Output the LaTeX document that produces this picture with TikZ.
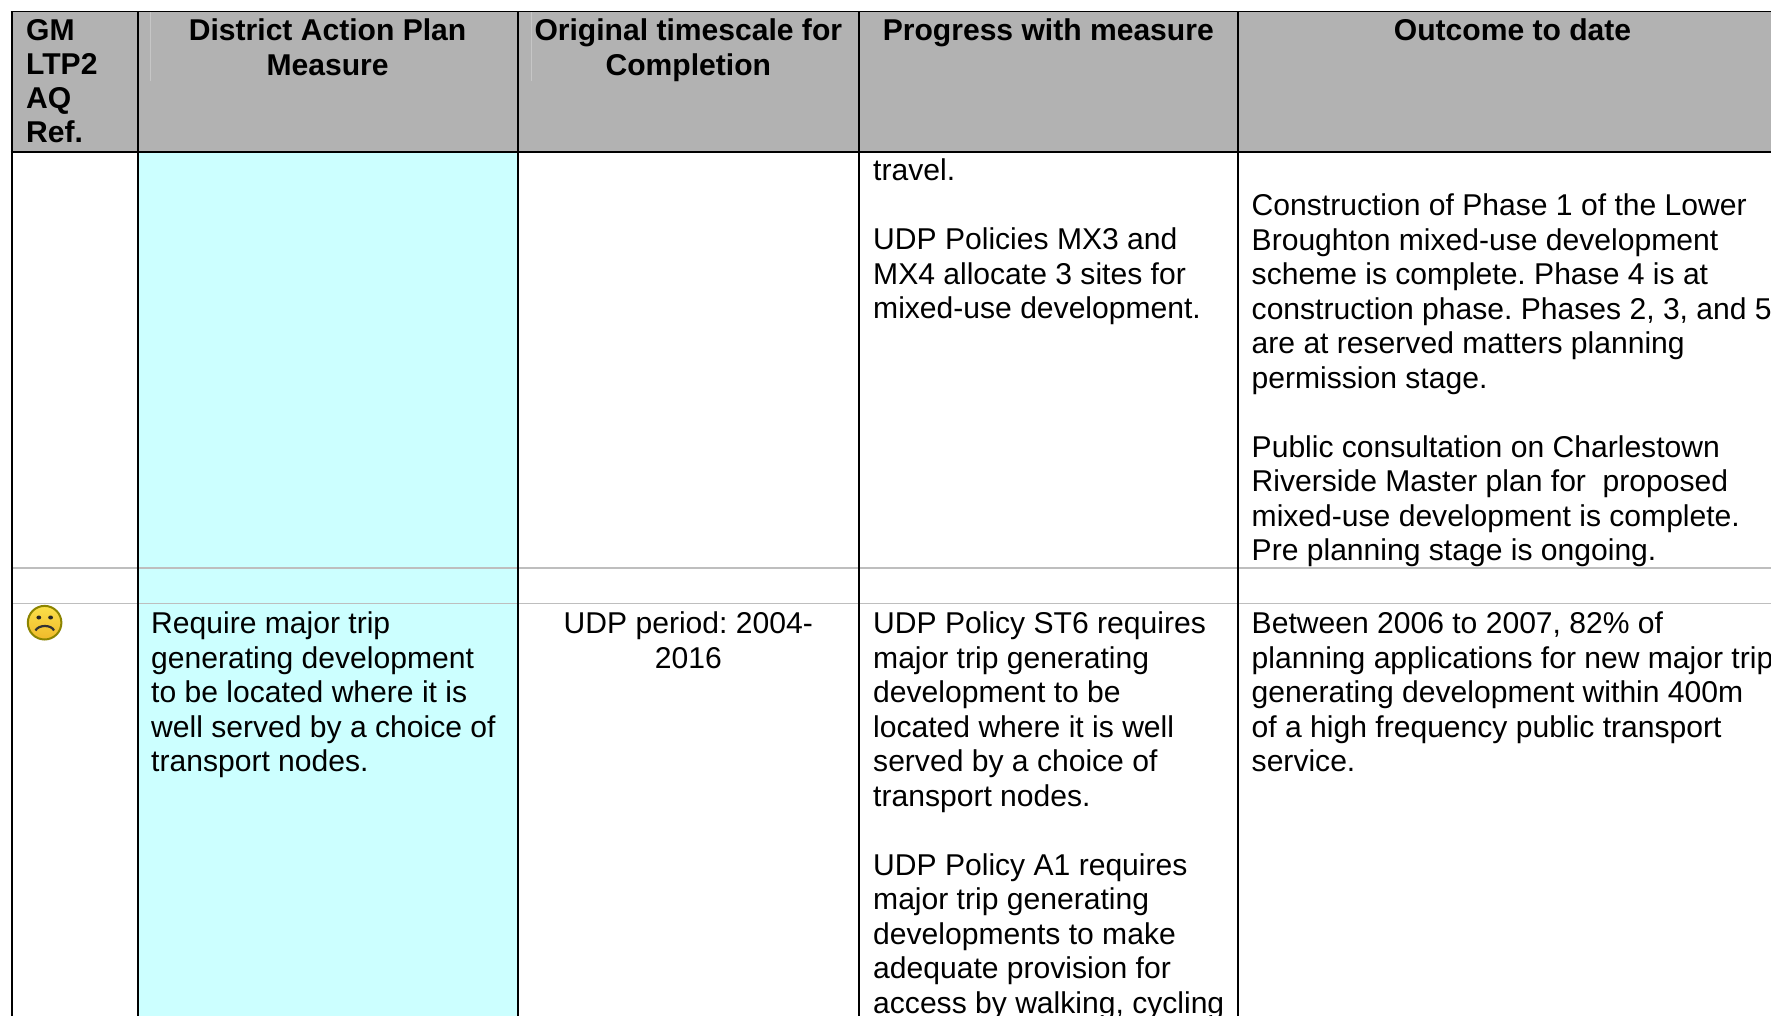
\documentclass[tikz,border=0pt]{standalone}
\usepackage{fontspec}
\setmainfont{Liberation Sans}
\frenchspacing
\definecolor{headgray}{HTML}{B2B2B2}
\definecolor{cellcyan}{HTML}{CCFFFF}
\definecolor{rowgray}{HTML}{BEBEBE}
\definecolor{faintline}{HTML}{C6C6C6}
\definecolor{faceTop}{HTML}{FBE04A}
\definecolor{faceBottom}{HTML}{F0B92A}
\definecolor{smileedge}{HTML}{8C8400}
\tikzset{
  celltext/.style={inner sep=0pt,anchor=north west,align=left,font=\fontsize{30.08}{34.52}\selectfont,execute at begin node=\strut},
  centertext/.style={inner sep=0pt,anchor=north,align=center,font=\fontsize{30.08}{34.52}\selectfont,execute at begin node=\strut},
  headleft/.style={celltext,font=\fontsize{30.08}{34.2}\selectfont\bfseries},
  headcenter/.style={centertext,font=\fontsize{30.08}{34.2}\selectfont\bfseries},
  blackrule/.style={black,line width=2pt},
  thinrow/.style={rowgray,line width=1.3pt},
  thickrow/.style={rowgray,line width=2.4pt}
}
\begin{document}
\begin{tikzpicture}[x=1pt,y=-1pt]
\useasboundingbox (0,0) rectangle (1771,1016);
\clip (0,0) rectangle (1771,1016);
\fill[white] (0,0) rectangle (1771,1016);
\fill[headgray] (11.5,12) rectangle (1771,152);
\fill[cellcyan] (138,152) rectangle (518,1016);
% faint lines in header
\draw[faintline,line width=0.7pt] (150.5,12) -- (150.5,81.5);
\draw[faintline,line width=0.7pt] (531.5,12) -- (531.5,81.5);
% row rules
\draw[thickrow] (11.5,567.8) -- (1771,567.8);
\draw[thinrow] (11.5,603.3) -- (1771,603.3);
% column rules
\draw[blackrule] (11.5,11.5) -- (11.5,1016);
\draw[blackrule] (138,11.5) -- (138,1016);
\draw[blackrule] (518,11.5) -- (518,1016);
\draw[blackrule] (859.2,11.5) -- (859.2,1016);
\draw[blackrule] (1238,11.5) -- (1238,1016);
\draw[black,line width=1.5pt] (10.5,11.6) -- (1771,11.6);
\draw[black,line width=2pt] (10.5,152) -- (1771,152);
% header
\node[headleft] (h1) at (26,18.9) {GM\\LTP2\\AQ\\Ref.};
\node[headcenter] (h2) at (327.6,18.9) {District Action Plan\\Measure};
\node[headcenter] (h3) at (688.3,18.9) {Original timescale for\\Completion};
\node[headcenter] (h4) at (1048.3,16.6) {Progress with measure};
\node[headcenter] (h5) at (1512.5,16.6) {Outcome to date};
% upper row
\node[celltext] (p1) at (873,158.7) {travel.\\[34.52pt]UDP Policies MX3 and\\MX4 allocate 3 sites for\\mixed-use development.};
\node[celltext] (o1) at (1251.5,193.7) {Construction of Phase 1 of the Lower\\Broughton mixed-use development\\scheme is complete. Phase 4 is at\\construction phase. Phases 2, 3, and 5\\are at reserved matters planning\\permission stage.\\[34.52pt]Public consultation on Charlestown\\Riverside Master plan for~~proposed\\mixed-use development is complete.\\Pre planning stage is ongoing.};
% lower row
\node[celltext] (m2) at (151,611.7) {Require major trip\\generating development\\to be located where it is\\well served by a choice of\\transport nodes.};
\node[centertext] (t2) at (688.3,611.7) {UDP period: 2004-\\2016};
\node[celltext] (p2) at (873,611.7) {UDP Policy ST6 requires\\major trip generating\\development to be\\located where it is well\\served by a choice of\\transport nodes.\\[34.52pt]UDP Policy A1 requires\\major trip generating\\developments to make\\adequate provision for\\access by walking, cycling};
\node[celltext] (o2) at (1251.5,611.7) {Between 2006 to 2007, 82\% of\\planning applications for new major trip\\generating development within 400m\\of a high frequency public transport\\service.};
% sad face
\shade[top color=faceTop,bottom color=faceBottom,draw=smileedge,line width=2pt] (44.6,622.7) circle (16.8);
\fill[black!85] (38.8,617.5) ellipse (2.4 and 2);
\fill[black!85] (50.6,617.5) ellipse (2.4 and 2);
\draw[black!80,line width=2.2pt] (35.5,630.5) .. controls (38.5,624.5) and (51.5,624.5) .. (54,630.5);
\end{tikzpicture}
\end{document}
